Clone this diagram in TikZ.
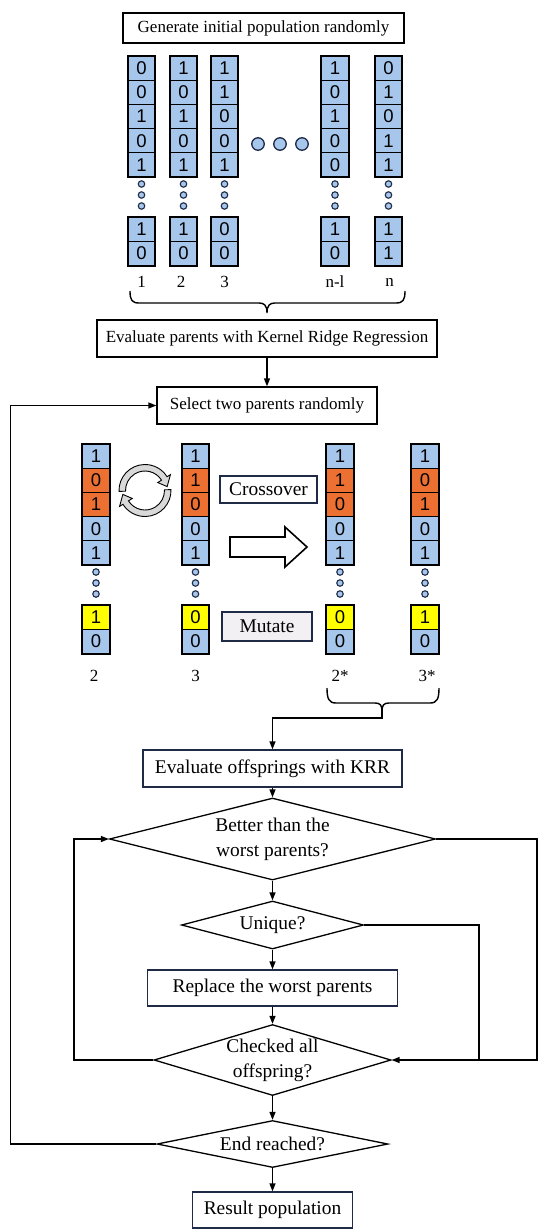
\documentclass[tikz,border=0pt]{standalone}
\usepackage{fontspec}
\setmainfont{Liberation Serif}
\newfontfamily\digfont{Liberation Sans}
\usetikzlibrary{shapes.geometric,arrows.meta}
\definecolor{cblue}{RGB}{166,198,236}
\definecolor{corange}{RGB}{236,112,50}
\definecolor{cyel}{RGB}{255,255,0}
\definecolor{navy}{RGB}{30,42,70}
\definecolor{mgray}{RGB}{242,240,242}
\newcommand\bitcol[5]{%
  \foreach [count=\i] \c/\d in {#4} {\node[cell,fill=\c] (#1-\i) at (#2,{#3+(\i-0.5)*24.2}) {\d};}
  \foreach [count=\i] \c/\d in {#5} {\node[cell,fill=\c] (#1-b\i) at (#2,{#3+161+(\i-0.5)*24.2}) {\d};}
  \foreach \k in {0,1,2} {\node[sdot] (#1-d\k) at (#2,{#3+128+11*\k}) {};}
  \draw[line width=1.6pt] (#1-1.north west) rectangle (#1-5.south east);
  \draw[line width=1.6pt] (#1-b1.north west) rectangle (#1-b2.south east);
}
\begin{document}
\begin{tikzpicture}[x=1pt,y=-1pt,
  cell/.style={draw=black, line width=1.1pt, minimum width=26.5pt, minimum height=24.2pt, inner sep=0pt, font=\digfont\fontsize{18.5}{18.5}\selectfont},
  sdot/.style={circle, draw=navy, fill=cblue, line width=1.1pt, minimum size=6.5pt, inner sep=0pt},
  bdot/.style={circle, draw=navy, fill=cblue, line width=1.3pt, minimum size=12.5pt, inner sep=0pt},
  lab/.style={inner sep=0pt, font=\fontsize{17}{20}\selectfont},
  ubox/.style={draw=black, line width=1.3pt, fill=white, inner sep=0pt, font=\fontsize{17}{20}\selectfont},
  lbox/.style={draw=navy, line width=1.3pt, fill=white, inner sep=0pt, font=\fontsize{19.4}{25}\selectfont},
  dia/.style={diamond, draw=black, line width=1.3pt, inner sep=0pt, align=center, font=\fontsize{19.4}{25}\selectfont},
  conn/.style={line width=1.4pt},
  arr/.style={line width=1.4pt, -{Triangle[length=8pt,width=6pt]}},
  brace/.style={line width=1.4pt},
  cyc/.style={draw=black, line width=0.9pt, fill=black!15}
]
\useasboundingbox (0,0) rectangle (550,1229);

% ---------- top: initial population ----------
\node[ubox, minimum width=281pt, minimum height=30pt] (gen) at (263.5,28) {Generate initial population randomly};

\bitcol{c1}{141.5}{56}{cblue/0,cblue/0,cblue/1,cblue/0,cblue/1}{cblue/1,cblue/0}
\bitcol{c2}{183.5}{56}{cblue/1,cblue/0,cblue/1,cblue/0,cblue/1}{cblue/1,cblue/0}
\bitcol{c3}{224.5}{56}{cblue/1,cblue/1,cblue/0,cblue/0,cblue/1}{cblue/0,cblue/0}
\bitcol{cm}{335}{56}{cblue/1,cblue/0,cblue/1,cblue/0,cblue/0}{cblue/1,cblue/0}
\bitcol{cn}{388.5}{56}{cblue/0,cblue/1,cblue/0,cblue/1,cblue/1}{cblue/1,cblue/1}

\node[bdot] (e1) at (258,144) {};
\node[bdot] (e2) at (280,144) {};
\node[bdot] (e3) at (302,144) {};

\node[lab] (l1) at (141.5,282) {1};
\node[lab] (l2) at (181,282) {2};
\node[lab] (l3) at (224.5,282) {3};
\node[lab] (lm) at (335,282) {n-l};
\node[lab] (ln) at (389.5,282) {n};

\draw[brace] (130,291) .. controls (130,300) and (132,303) .. (139,303) -- (259,303)
  .. controls (264,303) and (267,305) .. (267,313)
  .. controls (267,305) and (270,303) .. (275,303) -- (396,303)
  .. controls (403,303) and (405,300) .. (405,291);

\node[ubox, minimum width=340pt, minimum height=37pt] (evp) at (267,338.5) {Evaluate parents with Kernel Ridge Regression};
\node[ubox, minimum width=220pt, minimum height=37pt] (sel) at (267,405.5) {Select two parents randomly};
\draw[arr] (evp.south) -- (sel.north);

% ---------- crossover / mutation ----------
\bitcol{p2}{96}{444}{cblue/1,corange/0,corange/1,cblue/0,cblue/1}{cyel/1,cblue/0}
\bitcol{p3}{195.5}{444}{cblue/1,corange/1,corange/0,cblue/0,cblue/1}{cyel/0,cblue/0}
\bitcol{o2}{340}{444}{cblue/1,corange/1,corange/0,cblue/0,cblue/1}{cyel/0,cblue/0}
\bitcol{o3}{425}{444}{cblue/1,corange/0,corange/1,cblue/0,cblue/1}{cyel/1,cblue/0}

\node[lab] (lp2) at (94,676) {2};
\node[lab] (lp3) at (195.5,676) {3};
\node[lab] (lo2) at (340,676) {2*};
\node[lab] (lo3) at (427,676) {3*};

% swap arrows
\begin{scope}[shift={(145,490.5)}]
  \path[cyc] (178:26) arc[start angle=178, end angle=328, radius=26] -- (328:30) -- (350:22.5) -- (328:15) -- (328:19.5) arc[start angle=328, end angle=178, radius=19.5] -- cycle;
  \path[cyc] (-2:26) arc[start angle=-2, end angle=148, radius=26] -- (148:30) -- (170:22.5) -- (148:15) -- (148:19.5) arc[start angle=148, end angle=-2, radius=19.5] -- cycle;
\end{scope}

\node[lbox, minimum width=97pt, minimum height=27pt] (cro) at (268.5,489.5) {Crossover};
\draw[line width=1.6pt, fill=white] (230,537) -- (285,537) -- (285,527) -- (307,547) -- (285,567) -- (285,557) -- (230,557) -- cycle;
\node[lbox, fill=mgray, minimum width=90pt, minimum height=29pt] (mut) at (267,626.5) {Mutate};

\draw[brace] (327,688) .. controls (327,699) and (329,703) .. (336,703) -- (375,703)
  .. controls (380,703) and (382,705) .. (382,711)
  .. controls (382,705) and (384,703) .. (389,703) -- (430,703)
  .. controls (437,703) and (439,699) .. (439,688);
\coordinate (b2t) at (382,710);
\coordinate (b2) at (382,718);

% ---------- lower flowchart ----------
\node[lbox, minimum width=259pt, minimum height=37pt] (evo) at (272.5,768.5) {Evaluate offsprings with KRR};
\draw[arr] (b2t) -- (b2) -| (evo.north);

\node[dia, aspect=3.98, minimum width=326pt, minimum height=82pt] (bet) at (272.5,839) {Better than the\\worst parents?};
\node[dia, aspect=3.8, minimum width=182pt, minimum height=48pt] (uni) at (272.5,925) {Unique?};
\node[lbox, minimum width=250pt, minimum height=36pt] (rep) at (272.5,988) {Replace the worst parents};
\node[dia, aspect=3.34, minimum width=237pt, minimum height=71pt] (chk) at (272.5,1060) {Checked all\\offspring?};
\node[dia, aspect=4.9, minimum width=231pt, minimum height=47pt] (endd) at (272.5,1144) {End reached?};
\node[lbox, minimum width=160pt, minimum height=36pt] (res) at (272.5,1210) {Result population};

\draw[arr] (evo.south) -- (bet.north);
\draw[arr] (bet.south) -- (uni.north);
\draw[arr] (uni.south) -- (rep.north);
\draw[arr] (rep.south) -- (chk.north);
\draw[arr] (chk.south) -- (endd.north);
\draw[arr] (endd.south) -- (res.north);

\coordinate (lb) at (74,1060);
\draw[arr] (chk.west) -- (lb) |- (bet.west);
\coordinate (rt) at (537,839);
\draw[arr] (bet.east) -- (rt) |- (chk.east);
\coordinate (ru) at (479,925);
\draw[conn] (uni.east) -- (ru) -- (ru |- chk.east);
\coordinate (lo) at (10.5,1144);
\draw[arr] (endd.west) -- (lo) |- (sel.west);
\end{tikzpicture}
\end{document}
